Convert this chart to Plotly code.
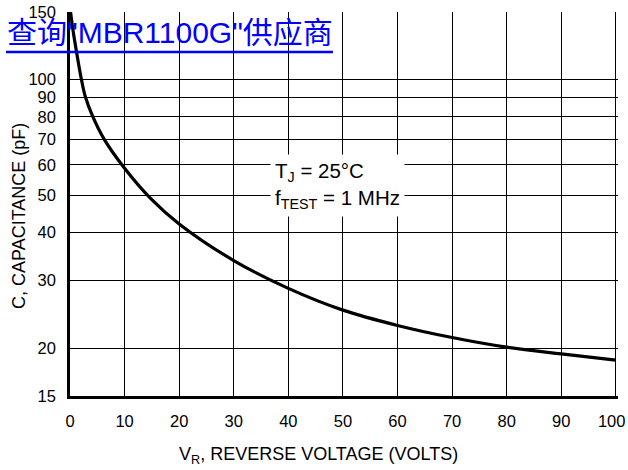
import plotly.graph_objects as go

# Data
v_r = [0.1, 0.6, 1.2, 2.1, 2.8, 4.1, 6.3, 10, 14.8, 20, 30, 40, 50, 60, 70, 80, 90, 100]
cap = [150, 133, 118, 100, 90.4, 80.6, 69.8, 58.8, 49.0, 42.1, 33.8, 28.6, 25.1, 22.9, 21.3, 20.1, 19.3, 18.6]

x_ticks = [0, 10, 20, 30, 40, 50, 60, 70, 80, 90, 100]
x_labels = ["0", "10", "20", "30", "40", "50", "60", "70", "80", "90", "100\u2002"]
y_ticks = [15, 20, 30, 40, 50, 60, 70, 80, 90, 100, 150]
y_labels = ["15", "20", "30", "40", "50", "60", "70", "80", "90", "100", "150"]

FONT = "Liberation Sans, Arial, sans-serif"
L, R, T, B = 70, 10, 12, 74
W, H = 628, 470
PW, PH = W - L - R, H - T - B


def px_x(p):
    return (p - L) / PW


def px_y(p):
    return (H - B - p) / PH


fig = go.Figure()
fig.add_trace(go.Scatter(x=v_r, y=cap, mode="lines",
                         line=dict(color="black", width=3.2, shape="spline", smoothing=1.0),
                         hoverinfo="skip", showlegend=False))

fig.update_layout(
    width=W, height=H,
    margin=dict(l=L, r=R, t=T, b=B, autoexpand=False),
    paper_bgcolor="white", plot_bgcolor="white",
    font=dict(family=FONT, size=18, color="black"),
    xaxis=dict(range=[0, 100.4], tickvals=x_ticks, ticktext=x_labels,
               showgrid=True, gridcolor="black", gridwidth=1,
               showline=True, linecolor="black", linewidth=2.5,
               ticks="", zeroline=False, automargin=False, ticklabelstandoff=8,
               ticklabeloverflow="allow",
               tickfont=dict(family=FONT, size=16.5)),
    yaxis=dict(type="log", range=[1.17609, 2.17610], tickvals=y_ticks,
               ticktext=y_labels,
               showgrid=True, gridcolor="black", gridwidth=1,
               showline=True, linecolor="black", linewidth=2.5,
               ticks="", zeroline=False, automargin=False, ticklabelstandoff=8,
               ticklabeloverflow="allow",
               tickfont=dict(family=FONT, size=16.5)),
)

# axis titles
fig.add_annotation(xref="paper", yref="paper", x=px_x(318), y=px_y(455),
                   xanchor="center", yanchor="middle", showarrow=False,
                   text="V<sub>R</sub>, REVERSE VOLTAGE (VOLTS)", font=dict(family=FONT, size=18))
fig.add_annotation(xref="paper", yref="paper", x=px_x(19), y=px_y(216),
                   xanchor="center", yanchor="middle", showarrow=False, textangle=-90,
                   text="C, CAPACITANCE (pF)", font=dict(family=FONT, size=18))

# condition box
fig.add_annotation(xref="paper", yref="paper", x=px_x(270), y=px_y(185), xanchor="left", yanchor="middle",
                   align="left", showarrow=False,
                   text="T<sub>J</sub> = 25°C<br>f<sub>TEST</sub> = 1 MHz",
                   font=dict(family=FONT, size=20.5, color="black"),
                   bgcolor="white", borderpad=4)

# link text
fig.add_annotation(xref="paper", yref="paper", x=px_x(5), y=px_y(14), xanchor="left", yanchor="top",
                   showarrow=False,
                   text="查询\"MBR1100G\"供应商",
                   font=dict(family="Liberation Sans, Noto Sans CJK SC, sans-serif", size=30, color="#0000ff"))
fig.add_shape(type="line", xref="paper", yref="paper", x0=px_x(6), x1=px_x(333), y0=px_y(52), y1=px_y(52),
              line=dict(color="#0000ff", width=2.5), layer="above")

fig.write_html("out.html", config={"displayModeBar": False},
               post_script="document.body.style.margin='0px';")
